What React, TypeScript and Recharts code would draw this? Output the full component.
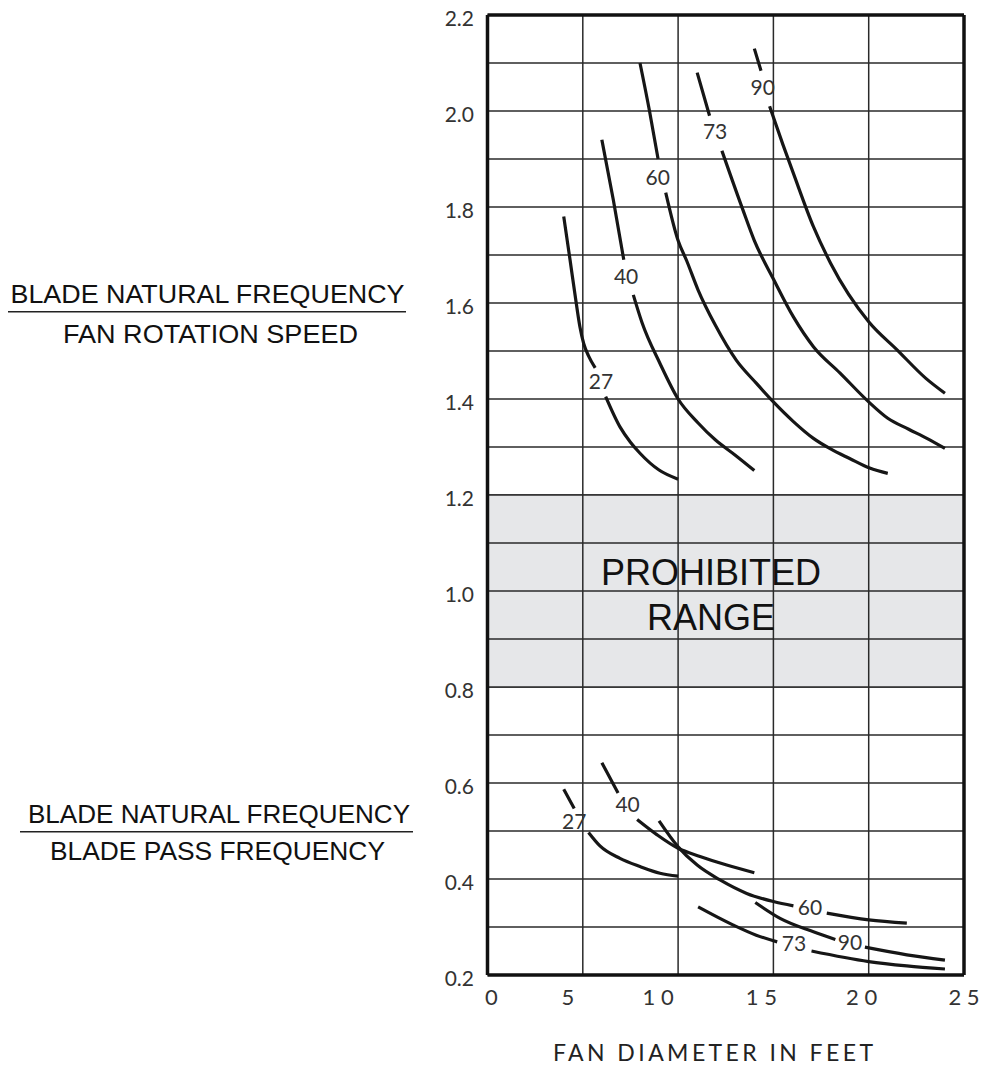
import React from "react";
import { LineChart, Line, XAxis, YAxis, CartesianGrid, ReferenceArea, ReferenceLine, ReferenceDot } from "recharts";

// fan diameter axis
const X_TICKS = [0, 5, 10, 15, 20, 25];
const X_TICK_LABELS = ["0", "5", "1 0", "1 5", "2 0", "2 5"];
// the printed labels sit a little left of their grid lines
const X_TICK_SHIFT = [4, -15, -20, -12, -7, 0];

const Y_TICKS = [0.2, 0.3, 0.4, 0.5, 0.6, 0.7, 0.8, 0.9, 1.0, 1.1, 1.2, 1.3, 1.4, 1.5, 1.6, 1.7, 1.8, 1.9, 2.0, 2.1, 2.2];
const Y_LABELS = [0.2, 0.4, 0.6, 0.8, 1.0, 1.2, 1.4, 1.6, 1.8, 2.0, 2.2];

// blade natural frequency / fan rotation speed (null = gap for label)
const ROT_27: [number, number | null][] = [[4.0, 1.78], [4.33, 1.69], [4.6, 1.615], [4.85, 1.55], [5.05, 1.515], [5.3, 1.49], [5.65, 1.465], [5.9, null], [6.2, 1.405], [6.95, 1.342], [7.5, 1.31], [8.0, 1.287], [9.0, 1.252], [10.0, 1.233]];
const ROT_40: [number, number | null][] = [[6.0, 1.94], [6.6, 1.815], [7.15, 1.69], [7.4, null], [7.65, 1.617], [8.1, 1.56], [9.05, 1.474], [10.0, 1.4], [11.05, 1.35], [11.95, 1.315], [13.0, 1.283], [14.0, 1.251]];
const ROT_60: [number, number | null][] = [[8.0, 2.1], [8.5, 2.0], [8.95, 1.9], [9.15, null], [9.35, 1.83], [10.0, 1.73], [10.45, 1.688], [11.05, 1.627], [11.95, 1.554], [13.05, 1.481], [14.1, 1.433], [15.0, 1.394], [16.05, 1.353], [17.1, 1.318], [18.0, 1.296], [19.0, 1.276], [20.05, 1.256], [21.0, 1.245]];
const ROT_73: [number, number | null][] = [[11.0, 2.08], [11.65, 1.99], [12.0, null], [12.3, 1.917], [13.4, 1.794], [14.0, 1.73], [15.0, 1.65], [16.05, 1.571], [17.1, 1.509], [18.5, 1.454], [20.0, 1.394], [21.0, 1.36], [22.1, 1.337], [23.05, 1.318], [24.0, 1.297]];
const ROT_90: [number, number | null][] = [[14.0, 2.13], [14.35, 2.084], [14.55, null], [14.8, 2.01], [15.5, 1.93], [16.05, 1.87], [17.1, 1.759], [18.0, 1.683], [20.0, 1.561], [21.5, 1.502], [23.0, 1.443], [24.0, 1.412]];

// blade natural frequency / blade pass frequency
const BPF_27: [number, number | null][] = [[4.0, 0.587], [4.55, 0.547], [4.9, null], [5.3, 0.497], [5.9, 0.469], [6.95, 0.443], [8.0, 0.426], [9.05, 0.412], [10.0, 0.406]];
const BPF_40: [number, number | null][] = [[6.0, 0.642], [6.85, 0.579], [7.3, null], [7.85, 0.524], [8.9, 0.492], [10.0, 0.464], [11.15, 0.447], [12.55, 0.429], [14.0, 0.413]];
const BPF_60: [number, number | null][] = [[9.0, 0.521], [10.0, 0.467], [11.0, 0.429], [12.2, 0.398], [13.6, 0.37], [15.0, 0.353], [16.05, 0.344], [17.0, null], [17.8, 0.329], [20.0, 0.315], [22.0, 0.308]];
const BPF_73: [number, number | null][] = [[11.05, 0.342], [12.9, 0.304], [14.1, 0.283], [15.2, 0.269], [16.1, null], [17.0, 0.25], [20.0, 0.228], [22.0, 0.219], [24.0, 0.2125]];
const BPF_90: [number, number | null][] = [[14.05, 0.351], [15.35, 0.318], [17.1, 0.29], [18.25, 0.274], [19.0, null], [19.8, 0.258], [22.0, 0.242], [24.0, 0.231]];

const CURVES = [ROT_27, ROT_40, ROT_60, ROT_73, ROT_90, BPF_27, BPF_40, BPF_60, BPF_73, BPF_90];

// curve labels (speed in m/s), placed in the gaps
const CURVE_LABELS: { text: string; x: number; y: number }[] = [
  { text: "27", x: 5.95, y: 1.436 },
  { text: "40", x: 7.27, y: 1.654 },
  { text: "60", x: 8.93, y: 1.86 },
  { text: "73", x: 11.94, y: 1.957 },
  { text: "90", x: 14.44, y: 2.047 },
  { text: "27", x: 4.55, y: 0.519 },
  { text: "40", x: 7.35, y: 0.554 },
  { text: "60", x: 16.92, y: 0.339 },
  { text: "73", x: 16.08, y: 0.265 },
  { text: "90", x: 19.02, y: 0.267 },
];

const toRows = (pts: [number, number | null][]) => pts.map(([x, y]) => ({ x, y }));

const NUM_FONT = "Lato, 'DejaVu Sans', sans-serif";
const TXT_FONT = "'Liberation Sans', Arial, sans-serif";

function XTick({ x, y, payload, index }: any) {
  const i = X_TICKS.indexOf(payload.value);
  const k = i >= 0 ? i : index;
  return (
    <text x={x + X_TICK_SHIFT[k]} y={y + 22} textAnchor="middle" fontFamily={NUM_FONT} fontSize={22} fill="#333">
      {X_TICK_LABELS[k]}
    </text>
  );
}

function YTick({ y, payload }: any) {
  const v = payload.value;
  if (!Y_LABELS.some((l) => Math.abs(l - v) < 1e-6)) return null;
  return (
    <text x={474} y={y + 11} textAnchor="end" fontFamily={NUM_FONT} fontSize={21} fill="#333">
      {v.toFixed(1)}
    </text>
  );
}

export default function App() {
  return (
    <div style={{ position: "relative", width: 982, height: 1066, marginTop: -8, marginLeft: -8 }}>
      <svg width={982} height={1066} style={{ position: "absolute", left: 0, top: 0 }}>
        <g fontFamily={TXT_FONT} fontSize={26} fill="#111" textAnchor="middle">
          <text x={207.5} y={303} textLength={394} lengthAdjust="spacingAndGlyphs">BLADE NATURAL FREQUENCY</text>
          <line x1={8} x2={406} y1={311.7} y2={311.7} stroke="#222" strokeWidth={1.5} />
          <text x={210.5} y={343} textLength={295} lengthAdjust="spacingAndGlyphs">FAN ROTATION SPEED</text>
          <text x={219} y={823} textLength={382} lengthAdjust="spacingAndGlyphs">BLADE NATURAL FREQUENCY</text>
          <line x1={20} x2={413} y1={831.7} y2={831.7} stroke="#222" strokeWidth={1.5} />
          <text x={217.5} y={860} textLength={335} lengthAdjust="spacingAndGlyphs">BLADE PASS FREQUENCY</text>
        </g>
        <text x={713} y={1061} textAnchor="middle" fontFamily={NUM_FONT} fontSize={23} fill="#222" textLength={320} lengthAdjust="spacing">
          FAN  DIAMETER  IN  FEET
        </text>
      </svg>
      <div style={{ position: "absolute", left: 0, top: 0 }}>
        <LineChart width={982} height={1038} margin={{ top: 15, right: 18, left: 447.5, bottom: 23 }}>
          <ReferenceArea y1={0.8} y2={1.2} fill="#e6e7e9" fillOpacity={1} stroke="none" />
          <CartesianGrid stroke="#2a2a2a" strokeWidth={1.5} />
          {[5, 10, 15, 20].map((v) => (
            <ReferenceLine key={`bx${v}`} segment={[{ x: v, y: 0.8 }, { x: v, y: 1.2 }]} stroke="#2a2a2a" strokeWidth={1.5} />
          ))}
          {[0.8, 0.9, 1.0, 1.1, 1.2].map((v) => (
            <ReferenceLine key={`by${v}`} y={v} stroke="#2a2a2a" strokeWidth={1.5} />
          ))}
          <XAxis
            type="number"
            dataKey="x"
            domain={[0, 25]}
            ticks={X_TICKS}
            interval={0}
            height={40}
            axisLine={false}
            tickLine={false}
            tick={<XTick />}
            allowDataOverflow
          />
          <YAxis
            type="number"
            domain={[0.2, 2.2]}
            ticks={Y_TICKS}
            interval={0}
            width={40}
            axisLine={false}
            tickLine={false}
            tick={<YTick />}
            allowDataOverflow
          />
          {CURVES.map((c, i) => (
            <Line
              key={i}
              data={toRows(c)}
              dataKey="y"
              type="monotone"
              stroke="#161616"
              strokeWidth={3.2}
              dot={false}
              activeDot={false}
              connectNulls={false}
              isAnimationActive={false}
            />
          ))}
          {/* plot frame */}
          <ReferenceLine x={0} stroke="#111" strokeWidth={3.5} />
          <ReferenceLine x={25} stroke="#111" strokeWidth={3.5} />
          <ReferenceLine y={0.2} stroke="#111" strokeWidth={3.5} />
          <ReferenceLine y={2.2} stroke="#111" strokeWidth={3.5} />
          {CURVE_LABELS.map((l, i) => (
            <ReferenceDot
              key={`lbl${i}`}
              x={l.x}
              y={l.y}
              r={0}
              shape={(p: any) => (
                <text x={p.cx} y={p.cy + 7} textAnchor="middle" fontFamily={NUM_FONT} fontSize={21} fill="#333">
                  {l.text}
                </text>
              )}
            />
          ))}
          <ReferenceDot
            x={11.73}
            y={1.0}
            r={0}
            shape={(p: any) => (
              <text x={p.cx} textAnchor="middle" fontFamily={TXT_FONT} fontSize={36} fill="#111">
                <tspan x={p.cx} y={p.cy - 6}>PROHIBITED</tspan>
                <tspan x={p.cx} y={p.cy + 39}>RANGE</tspan>
              </text>
            )}
          />
        </LineChart>
      </div>
    </div>
  );
}
